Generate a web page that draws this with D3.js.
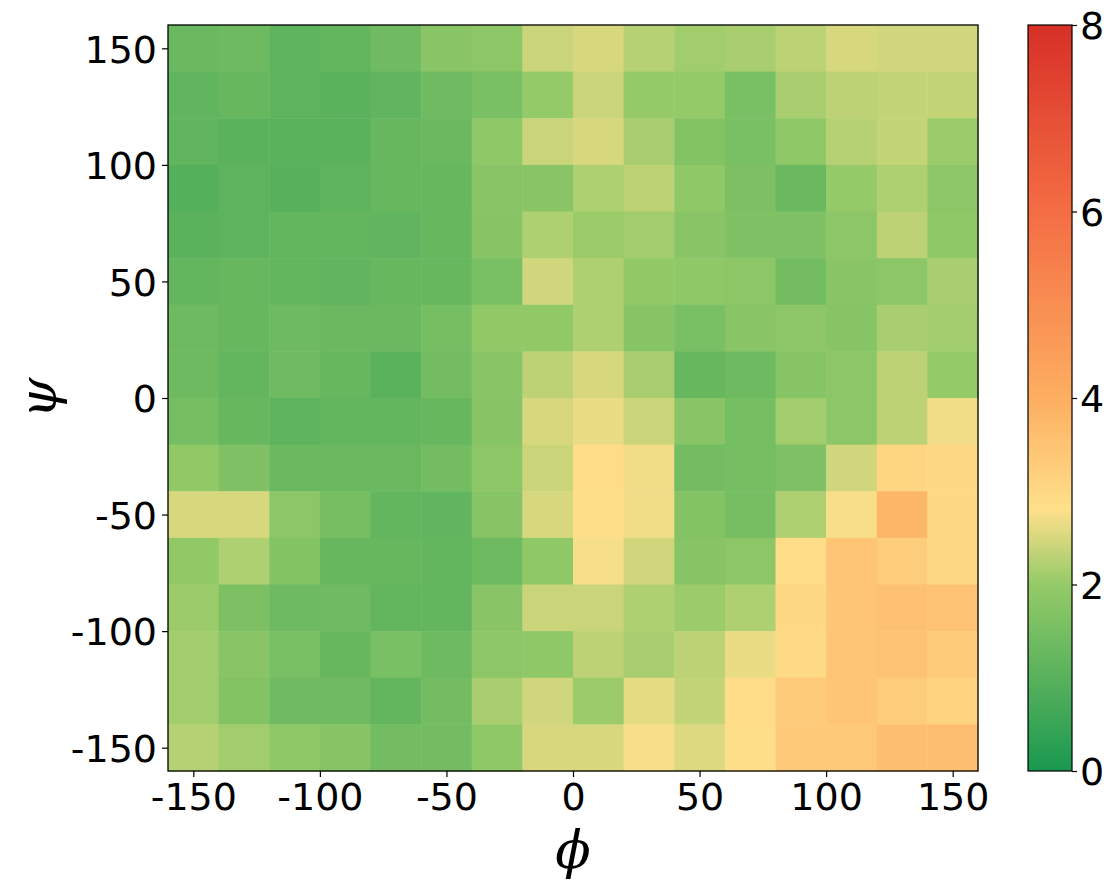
<!DOCTYPE html>
<html>
<head>
<meta charset="utf-8">
<script src="https://cdn.jsdelivr.net/npm/d3@7"></script>
<style>
  html, body { margin: 0; padding: 0; background: #ffffff; }
  svg { display: block; }
</style>
</head>
<body>
<svg id="chart" width="1109" height="890"></svg>
<script>
// ---- data ----
const phiCenters = [-150,-130,-110,-90,-70,-50,-30,-10,10,30,50,70,90,110,130,150];
const psiCenters = [150,130,110,90,70,50,30,10,-10,-30,-50,-70,-90,-110,-130,-150];
const xTicks = [-150,-100,-50,0,50,100,150];
const yTicks = [-150,-100,-50,0,50,100,150];
const cbTicks = [0,2,4,6,8];
// rows follow psiCenters (top to bottom), columns follow phiCenters
const energy = [
  [1.30,1.35,1.10,1.20,1.40,1.80,1.85,2.40,2.50,2.25,2.10,2.15,2.30,2.50,2.45,2.45],
  [1.15,1.25,1.10,1.05,1.15,1.40,1.55,2.00,2.40,2.00,2.00,1.55,2.15,2.30,2.35,2.35],
  [1.15,1.05,1.05,1.05,1.25,1.30,1.90,2.40,2.50,2.15,1.70,1.55,1.90,2.25,2.35,2.05],
  [0.95,1.10,1.00,1.10,1.25,1.25,1.80,1.80,2.20,2.30,1.90,1.60,1.30,2.00,2.20,1.85],
  [1.05,1.10,1.20,1.20,1.15,1.25,1.75,2.20,2.05,2.10,1.80,1.65,1.65,1.85,2.30,1.90],
  [1.20,1.25,1.20,1.15,1.25,1.25,1.55,2.45,2.20,1.95,1.90,1.85,1.45,1.80,1.85,2.15],
  [1.35,1.25,1.35,1.30,1.30,1.50,1.95,1.95,2.20,1.75,1.55,1.80,1.85,1.75,2.15,2.10],
  [1.35,1.20,1.40,1.25,1.05,1.45,1.80,2.30,2.50,2.15,1.25,1.35,1.75,1.85,2.30,2.00],
  [1.50,1.25,1.10,1.20,1.20,1.25,1.75,2.50,2.65,2.40,1.80,1.50,2.10,1.85,2.30,2.70],
  [1.95,1.65,1.30,1.30,1.30,1.45,1.85,2.40,2.90,2.70,1.45,1.50,1.65,2.45,3.05,3.00],
  [2.50,2.50,1.85,1.50,1.20,1.15,1.75,2.50,2.85,2.70,1.70,1.50,2.20,2.75,3.80,3.00],
  [1.95,2.20,1.70,1.25,1.25,1.20,1.35,1.90,2.75,2.45,1.75,1.85,2.90,3.45,3.25,3.00],
  [2.05,1.60,1.35,1.40,1.20,1.20,1.80,2.40,2.40,2.20,2.05,2.20,3.00,3.45,3.55,3.50],
  [2.10,1.80,1.55,1.25,1.55,1.35,1.85,1.90,2.30,2.15,2.30,2.65,2.95,3.45,3.50,3.30],
  [2.10,1.70,1.40,1.40,1.20,1.45,2.15,2.45,2.05,2.60,2.35,2.90,3.30,3.45,3.25,3.10],
  [2.25,2.10,1.90,1.75,1.45,1.45,1.90,2.50,2.50,2.75,2.55,2.85,3.35,3.35,3.60,3.60]
];
const colorStops = [0, 2, 2.8, 4, 6, 8];
const colorValues = ['#1a9850', '#95ca68', '#fee08b', '#fdae61', '#f46d43', '#d73027'];

// ---- layout ----
const plot = { left: 168, right: 978, top: 25, bottom: 771 };
const cb = { left: 1028, right: 1072, top: 25, bottom: 771 };
const tickFont = 'DejaVu Sans, sans-serif';
const tickSize = 38;
const fmt = d => String(d); // plain hyphen-minus like the reference

const svg = d3.select('#chart');

const x = d3.scaleLinear().domain([-160, 160]).range([plot.left, plot.right]);
const y = d3.scaleLinear().domain([-160, 160]).range([plot.bottom, plot.top]);
const color = d3.scaleLinear().domain(colorStops).range(colorValues).interpolate(d3.interpolateRgb);

const cells = [];
psiCenters.forEach((psi, i) => {
  phiCenters.forEach((phi, j) => {
    cells.push({ phi, psi, v: energy[i][j] });
  });
});

svg.append('g').selectAll('rect').data(cells).join('rect')
  .attr('x', d => x(d.phi - 10))
  .attr('y', d => y(d.psi + 10))
  .attr('width', d => x(d.phi + 10) - x(d.phi - 10) + 0.5)
  .attr('height', d => y(d.psi - 10) - y(d.psi + 10) + 0.5)
  .attr('fill', d => color(d.v));

// frame
svg.append('rect')
  .attr('x', plot.left).attr('y', plot.top)
  .attr('width', plot.right - plot.left).attr('height', plot.bottom - plot.top)
  .attr('fill', 'none').attr('stroke', '#000').attr('stroke-width', 1.3);

// axes
const xAxis = svg.append('g').attr('transform', `translate(0,${plot.bottom})`)
  .call(d3.axisBottom(x).tickValues(xTicks).tickFormat(fmt).tickSize(6).tickPadding(4));
const yAxis = svg.append('g').attr('transform', `translate(${plot.left},0)`)
  .call(d3.axisLeft(y).tickValues(yTicks).tickFormat(fmt).tickSize(6).tickPadding(5));
[xAxis, yAxis].forEach(g => {
  g.select('.domain').remove();
  g.selectAll('line').attr('stroke', '#000').attr('stroke-width', 1.2);
  g.selectAll('text').attr('font-family', tickFont).attr('font-size', tickSize).attr('fill', '#000');
});
xAxis.selectAll('text').attr('dy', '0.76em');
yAxis.selectAll('text').attr('dy', '0.36em');

// axis labels
svg.append('text')
  .attr('x', (plot.left + plot.right) / 2).attr('y', 868)
  .attr('text-anchor', 'middle')
  .attr('font-family', 'DejaVu Serif, serif').attr('font-style', 'italic')
  .attr('font-size', 52).text('ϕ');
svg.append('text')
  .attr('transform', `translate(56,${(plot.top + plot.bottom) / 2}) rotate(-90)`)
  .attr('text-anchor', 'middle')
  .attr('font-family', 'DejaVu Serif, serif').attr('font-style', 'italic')
  .attr('font-size', 52).text('ψ');

// colorbar
const defs = svg.append('defs');
const grad = defs.append('linearGradient').attr('id', 'cbgrad')
  .attr('x1', 0).attr('y1', 1).attr('x2', 0).attr('y2', 0);
d3.range(0, 8.0001, 0.1).forEach(v => {
  grad.append('stop').attr('offset', v / 8).attr('stop-color', color(v));
});
const cbScale = d3.scaleLinear().domain([0, 8]).range([cb.bottom, cb.top]);
svg.append('rect')
  .attr('x', cb.left).attr('y', cb.top)
  .attr('width', cb.right - cb.left).attr('height', cb.bottom - cb.top)
  .attr('fill', 'url(#cbgrad)').attr('stroke', '#000').attr('stroke-width', 1.2);
const cbAxis = svg.append('g').attr('transform', `translate(${cb.right},0)`)
  .call(d3.axisRight(cbScale).tickValues(cbTicks).tickFormat(fmt).tickSize(5).tickPadding(3));
cbAxis.select('.domain').remove();
cbAxis.selectAll('line').attr('stroke', '#000').attr('stroke-width', 1.2);
cbAxis.selectAll('text').attr('font-family', tickFont).attr('font-size', tickSize).attr('fill', '#000').attr('dy', '0.36em');
</script>
</body>
</html>
